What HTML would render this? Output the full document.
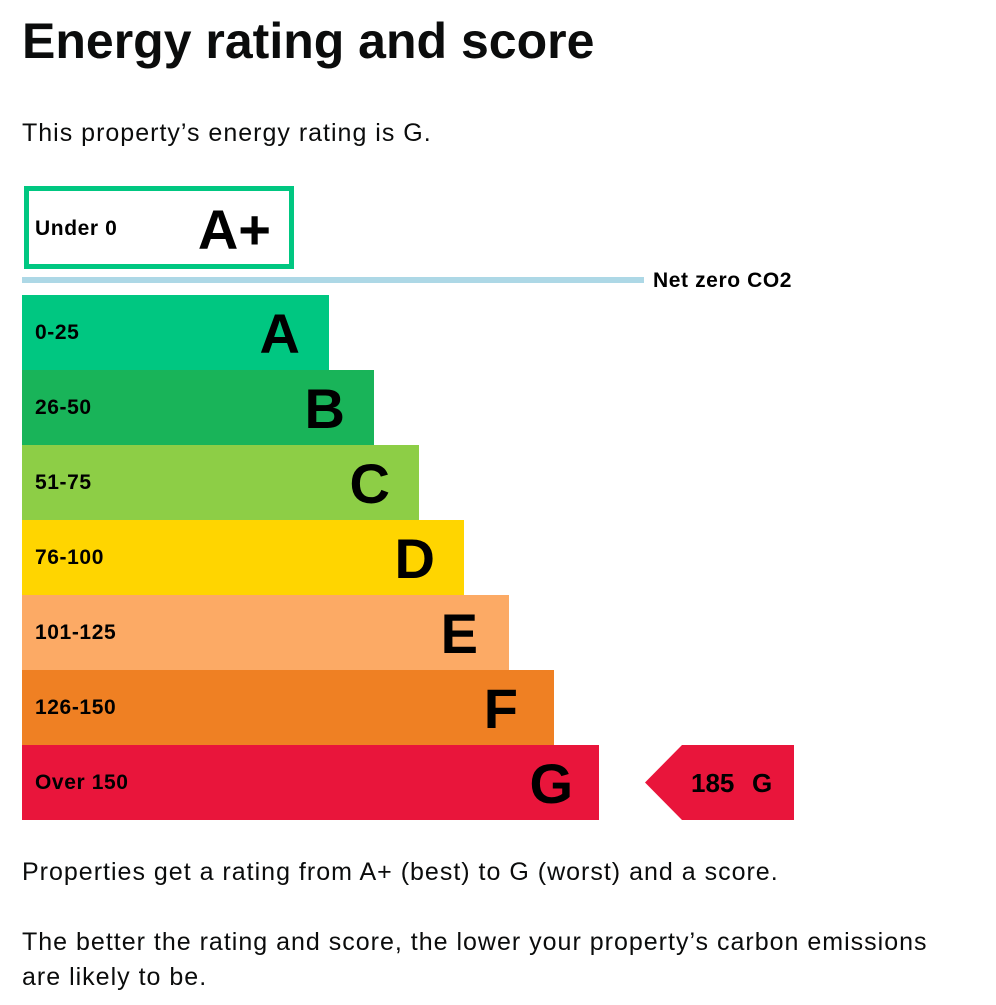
<!DOCTYPE html>
<html><head><style>
body{margin:0;background:#fff;width:996px;height:1005px;overflow:hidden;font-family:"Liberation Sans",Arial,sans-serif;color:#0b0c0c}
.a{position:absolute}
.p{font-size:25px;letter-spacing:1px}
</style></head><body>
<div class="a" style="left:22px;top:12px;font-size:50px;font-weight:bold">Energy rating and score</div>
<div class="a p" style="left:22px;top:119px">This property’s energy rating is G.</div>
<svg class="a" style="left:0;top:0" width="996" height="1005" font-family="Liberation Sans, Arial, sans-serif" font-weight="bold">
<rect x="26.5" y="188.5" width="265" height="78" fill="#fff" stroke="#00c781" stroke-width="5"/>
<text x="35" y="235" font-size="21" letter-spacing="0.6">Under 0</text>
<text x="271" y="249" font-size="56" text-anchor="end">A+</text>
<rect x="22" y="277" width="622" height="6" fill="#add8e6"/>
<text x="653" y="287" font-size="21" letter-spacing="0.6">Net zero CO2</text>
<rect x="22" y="295" width="307" height="75" fill="#00c781"/>
<rect x="22" y="370" width="352" height="75" fill="#19b459"/>
<rect x="22" y="445" width="397" height="75" fill="#8dce46"/>
<rect x="22" y="520" width="442" height="75" fill="#ffd500"/>
<rect x="22" y="595" width="487" height="75" fill="#fcaa65"/>
<rect x="22" y="670" width="532" height="75" fill="#ef8023"/>
<rect x="22" y="745" width="577" height="75" fill="#e9153b"/>
<g font-size="21" letter-spacing="0.6"><text x="35" y="339">0-25</text><text x="35" y="414">26-50</text><text x="35" y="489">51-75</text><text x="35" y="564">76-100</text><text x="35" y="639">101-125</text><text x="35" y="714">126-150</text><text x="35" y="789">Over 150</text></g>
<g font-size="56" text-anchor="end"><text x="300" y="353">A</text><text x="345" y="428">B</text><text x="390" y="503">C</text><text x="435" y="578">D</text><text x="478" y="653">E</text><text x="518" y="728">F</text><text x="573" y="803">G</text></g>
<polygon points="645,782.5 682,745 794,745 794,820 682,820" fill="#e9153b"/>
<text x="691" y="792" font-size="26">185</text><text x="752" y="792" font-size="26">G</text>
</svg>
<div class="a p" style="left:22px;top:858px">Properties get a rating from A+ (best) to G (worst) and a score.</div>
<div class="a p" style="left:22px;top:925px;line-height:35px;width:940px">The better the rating and score, the lower your property’s carbon emissions are likely to be.</div>
</body></html>
